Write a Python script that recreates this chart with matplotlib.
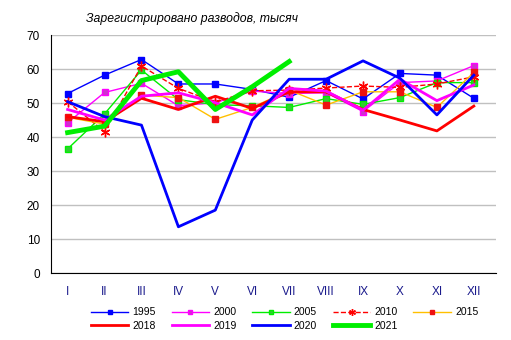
import matplotlib.pyplot as plt
import numpy as np

plt.rcParams['font.family'] = ['Liberation Sans', 'DejaVu Sans']

months = ['I', 'II', 'III', 'IV', 'V', 'VI', 'VII', 'VIII', 'IX', 'X', 'XI', 'XII']

y1995 = [52.8, 58.2, 62.8, 55.6, 55.6, 54.0, 51.7, 56.6, 51.2, 58.7, 58.2, 51.4]
y2000 = [44.2, 53.1, 55.8, 49.2, 50.1, 53.5, 52.8, 53.0, 47.5, 56.0, 56.5, 61.0]
y2005 = [36.5, 46.8, 59.7, 51.0, 49.5, 49.2, 48.7, 51.3, 49.6, 51.6, 56.0, 56.0]
y2010 = [50.4, 41.6, 60.9, 54.3, 50.3, 53.6, 53.8, 54.4, 55.0, 54.6, 55.6, 57.7]
y2015 = [45.8, 43.8, 52.3, 51.6, 45.2, 48.7, 53.8, 49.4, 53.3, 53.3, 48.7, 59.0]
y2018 = [46.0, 44.5, 51.4, 48.1, 52.0, 48.4, 53.3, 53.3, 48.1, 45.0, 41.8, 49.1]
y2019 = [48.1, 45.0, 52.0, 53.0, 50.1, 46.5, 54.3, 53.5, 47.9, 57.0, 50.7, 55.3]
y2020 = [50.4, 46.0, 43.5, 13.6, 18.5, 45.0, 57.0, 57.0, 62.4, 57.3, 46.5, 58.2]
y2021 = [41.3, 43.2, 56.6, 59.2, 48.1, 54.8, 62.2]

x = np.arange(len(months))

fig = plt.figure(figsize=(5.11, 3.40), dpi=100)
ax = fig.add_axes([0.0998, 0.197, 0.8708, 0.700])

l95, = ax.plot(x, y1995, color='#0000ff', lw=1, marker='s', ms=5, label='1995')
l00, = ax.plot(x, y2000, color='#ff00ff', lw=1, marker='s', ms=5, mfc='#cc33cc', label='2000')
l05, = ax.plot(x, y2005, color='#00ee00', lw=1, marker='s', ms=5, mfc='#33cc33', label='2005')
l10, = ax.plot(x, y2010, color='#ff0000', lw=1, ls='--', marker=(6, 2, 0), ms=7, label='2010')
l15, = ax.plot(x, y2015, color='#ffc000', lw=1, marker='s', ms=5, mfc='#ee1111', mec='#ee1111', label='2015')
l18, = ax.plot(x, y2018, color='#ff0000', lw=2, label='2018')
l19, = ax.plot(x, y2019, color='#ff00ff', lw=2, label='2019')
l20, = ax.plot(x, y2020, color='#0000ff', lw=2, label='2020')
l21, = ax.plot(x[:len(y2021)], y2021, color='#00ee00', lw=3.5, label='2021')

ax.set_ylim(0, 70)
ax.set_yticks(range(0, 71, 10))
ax.set_xlim(-0.45, 11.6)
ax.set_xticks(x)
ax.set_xticklabels(months, color='#1a1a8c')
ax.tick_params(length=0, labelsize=8.5)
ax.tick_params(axis='x', pad=9)
ax.tick_params(axis='y', pad=8)
ax.yaxis.grid(True, color='#c0c0c0', lw=1)
ax.set_axisbelow(True)
for s in ['top', 'right']:
    ax.spines[s].set_visible(False)

fig.text(0.375, 0.935, 'Зарегистрировано разводов, тысяч', style='italic',
         fontsize=8.8, ha='center')

# row-major order for a 2-row, 5-column legend
order = [l95, l18, l00, l19, l05, l20, l10, l21, l15]
ax.legend(order, [h.get_label() for h in order], loc='upper center',
          bbox_to_anchor=(0.525, -0.105), ncol=5, frameon=False,
          fontsize=7.5, handlelength=3.6, columnspacing=1.5, handletextpad=0.4,
          labelspacing=0.35, markerscale=0.7)

plt.savefig('out.png', dpi=100)
